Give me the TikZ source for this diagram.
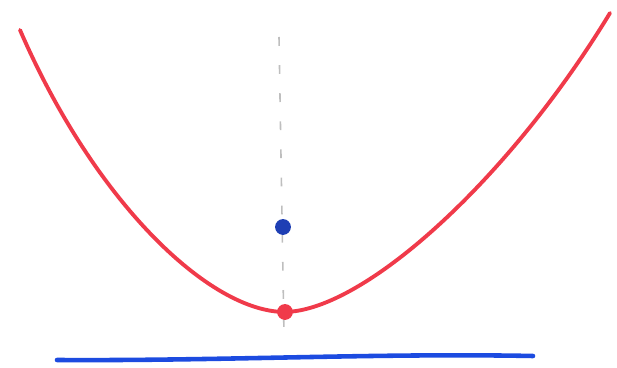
\documentclass[tikz,border=0pt]{standalone}
\usepackage{tikz}
\usetikzlibrary{positioning}
\definecolor{curvered}{HTML}{F03A4A}
\definecolor{focusblue}{HTML}{1E3FB4}
\definecolor{lineblue}{HTML}{1C4BE0}
\definecolor{axisgray}{HTML}{BEBEBE}

\begin{document}
\begin{tikzpicture}[
    curve/.style={curvered, line width=2.2pt, line cap=round, line join=round},
    dirline/.style={lineblue, line width=2.6pt, line cap=round},
    axisline/.style={axisgray, line width=0.9pt, dash pattern=on 5pt off 11pt},
    dot/.style={circle, inner sep=0pt, minimum size=#1}]
  \useasboundingbox (0,0) rectangle (12.34,7.36);
  % axis of symmetry
  \coordinate (axtop) at (5.58,6.62);
  \coordinate (axbot) at (5.68,0.66);
  \draw[axisline] (axtop) -- (axbot);
  % directrix
  \coordinate (dl) at (1.14,0.16);
  \coordinate (dr) at (10.66,0.24);
  \draw[dirline] (dl) .. controls (4.5,0.14) and (7.5,0.3) .. (dr);
  % the parabola
  \coordinate (ltop) at (0.40,6.76);
  \coordinate (rtop) at (12.20,7.10);
  \coordinate (vpt) at (5.70,1.12);
  \draw[curve] (ltop) .. controls (1.9,3.3) and (4.2,1.12) .. (vpt)
               .. controls (7.3,1.15) and (10.2,3.8) .. (rtop);
  % vertex and focus
  \node[dot=9pt, fill=curvered] (vertex) at (vpt) {};
  \node[dot=9pt, fill=focusblue] (focus) at (5.66,2.82) {};
\end{tikzpicture}
\end{document}
